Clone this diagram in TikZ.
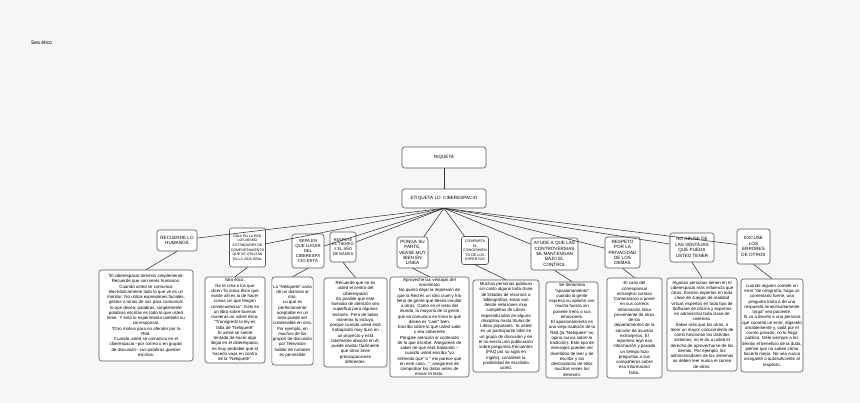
\documentclass[tikz,border=0pt]{standalone}
\usepackage{fontspec}
\setmainfont{Liberation Sans}
\definecolor{paper}{HTML}{F6F6F6}
\definecolor{boxline}{HTML}{555555}

\begin{document}
\begin{tikzpicture}[x=1pt, y=-1pt,
  cat/.style={draw=boxline, fill=white, line width=0.6pt, rounded corners=2.5pt,
    align=center, inner sep=1pt, font=\fontsize{4.6}{5.4}\selectfont},
  note/.style={draw=boxline, fill=white, line width=0.6pt, rounded corners=2.5pt,
    align=center, inner sep=1pt, font=\fontsize{4.4}{5.25}\selectfont},
  link/.style={draw=black!80, line width=0.55pt}]
  \useasboundingbox[fill=paper] (0,0) rectangle (860,403);

  % Title and root
  \node[font=\fontsize{5}{6}\selectfont] (seaetico) at (41.5,43) {Sea ético};
  \node[cat, minimum width=84pt, minimum height=21pt] (niqueta) at (444,157.5) {NIQUETA};
  \node[cat, minimum width=84pt, minimum height=19pt] (etiqueta) at (444,198.5) {ETIQUETA LO\ \ CIBERESPACIO};

  % Rules
  \node[cat, minimum width=40pt, minimum height=21pt] (recuerde) at (177,240.5) {RECUERDE LO\\HUMANOS};
  \node[cat, minimum width=36pt, minimum height=39pt, font=\fontsize{3.5}{4.6}\selectfont] (diga) at (247.5,247.5)
    {DIGA EN LA RED\\LOS MISMO\\ESTÁNDARES DE\\COMPORTAMIENTO\\QUE SE UTILIZAN\\EN LA VIDA REAL};
  \node[cat, minimum width=32pt, minimum height=34pt, font=\fontsize{4.3}{5.2}\selectfont] (sepa) at (308,251)
    {SEPA EN\\QUE LUGAR\\DEL\\CIBERESPA\\CIO ESTÁ};
  \node[cat, minimum width=26pt, minimum height=30pt, font=\fontsize{4.0}{4.9}\selectfont] (respete) at (343,247)
    {RESPETE\\EL TIEMPO\\Y EL AÑO\\DE BANDA};
  \node[cat, minimum width=31pt, minimum height=31pt] (ponga) at (412.5,252.5)
    {PONGA SU\\PARTE,\\VEASE MUY\\BIEN EN\\LINEA};
  \node[cat, minimum width=27pt, minimum height=28pt, font=\fontsize{3.6}{4.6}\selectfont] (comparta) at (475,250.5)
    {COMPARTA\\EL\\CONOCIMIEN\\TO DE LOS\\EXPERTOS};
  \node[cat, minimum width=47pt, minimum height=32pt] (ayude) at (554.5,254)
    {AYUDE A QUE LAS\\CONTROVERSIAS\\SE MANTENGAN\\BAJO EL\\CONTROL};
  \node[cat, minimum width=35pt, minimum height=31pt] (respeto) at (622.5,252.5)
    {RESPETO\\POR LA\\PRIVACIDAD\\DE LOS\\DEMAS};
  \node[cat, minimum width=44pt, minimum height=29pt] (abuse) at (692,247.5)
    {NO ABUSE DE\\LAS VENTAJAS\\QUE PUEDA\\USTED TENER};
  \node[cat, minimum width=33pt, minimum height=35pt] (excuse) at (753.5,246.5)
    {EXCUSE\\LOS\\ERRORES\\DE OTROS};

  % Explanations
  \node[note, minimum width=94pt, minimum height=91pt] (nrecuerde) at (146,315.5)
    {"El ciberespacio diremos simplemente:\\Recuerde que son seres humanos.\\Cuando usted se comunica\\electrónicamente todo lo que ve es un\\monitor. No utiliza expresiones faciales,\\gestos o tonos de voz para comunicar\\lo que desea; palabras, simplemente\\palabras escritas es todo lo que usted\\tiene. Y esto lo experimenta también su\\corresponsal.\\*Otro motivo para no ofender por la\\Red.\\Cuando usted se comunica en el\\ciberespacio --por correo o en grupos\\de discusión-- sus palabras quedan\\escritas.};
  \node[note, minimum width=60pt, minimum height=86pt] (ndiga) at (235,320)
    {Sea ético.\\No le crea a los que\\dicen "la única ética que\\existe allí es la de hacer\\cosas sin que tengan\\consecuencias". Este es\\un libro sobre buenas\\maneras no sobre ética.\\"Transgredir la ley es\\falta de "Netiquete"\\Si usted se siente\\tentado de hacer algo\\ilegal en el ciberespacio,\\es muy probable que al\\hacerlo vaya en contra\\de la "Netiquete".};
  \node[note, minimum width=41pt, minimum height=88pt] (nsepa) at (292.5,321)
    {La "Netiquete" varía\\de un dominio al\\otro.\\Lo que es\\perfectamente\\aceptable en un\\área puede ser\\condenable en otra.\\Por ejemplo, en\\muchos de los\\grupos de discusión\\por Televisión\\hablar de rumores\\es permisible};
  \node[note, minimum width=63pt, minimum height=89pt] (nrespete) at (355.5,322.5)
    {Recuerde que no es\\usted el centro del\\ciberespacio\\Es posible que este\\llamado de atención sea\\superfluo para algunos\\lectores. Pero de todas\\maneras lo incluyo,\\porque cuando usted está\\trabajando muy duro en\\un proyecto y está\\totalmente absorto en él,\\puede olvidar fácilmente\\que otros tiene\\preocupaciones\\diferentes.};
  \node[note, minimum width=79pt, minimum height=100pt] (nponga) at (429.5,327)
    {Aproveche las ventajas del\\anonimato\\No quiero dejar la impresión de\\que la Red es un sitio cruel y frío\\lleno de gente que desea insultar\\a otros. Como en el resto del\\mundo, la mayoría de la gente\\que se comunica en línea lo que\\desea es "caer" bien.\\Escriba sobre lo que usted sabe\\y sea coherente\\Póngale atención al contenido\\de lo que escribe. Asegúrese de\\saber de que está hablando --\\cuando usted escriba "yo\\entiendo que" o " me parece que\\en este caso...", asegúrese de\\comprobar los datos antes de\\enviar el texto.};
  \node[note, minimum width=66pt, minimum height=92pt] (ncomparta) at (506,326)
    {Muchas personas publican\\sin costo alguno toda clase\\de listados de recursos o\\bibliografías, estos van\\desde relaciones muy\\completas de Libros\\especializados en alguna\\disciplina hasta títulos de\\Libros populares. Si usted\\es un participante líder en\\un grupo de discusión y en\\el no exista una publicación\\sobre preguntas frecuentes\\(FAQ por su sigla en\\inglés), considere la\\posibilidad de escribirla\\usted.};
  \node[note, minimum width=52pt, minimum height=96pt] (nayude) at (572,330)
    {Se denomina\\"apasionamiento"\\cuando la gente\\expresa su opinión con\\mucha fuerza sin\\ponerle freno a sus\\emociones.\\El apasionamiento es\\una vieja tradición de la\\Red (la "Netiquete" no\\opina nunca sobre la\\tradición). Este tipo de\\mensajes pueden ser\\divertidos de leer y de\\escribir y los\\destinatarios de ellos\\muchas veces los\\merecen.};
  \node[note, minimum width=55pt, minimum height=100pt] (nrespeto) at (634.5,328)
    {El caso del\\corresponsal\\extranjero curioso\\Comenzaron a poner\\en sus correos\\información falsa\\proveniente de otros\\de los\\departamentos de la\\sección de asuntos\\extranjeros. El\\reportero leyó esa\\información y pasado\\un tiempo hizo\\preguntas a sus\\compañeros sobre\\esa información\\falsa.};
  \node[note, minimum width=70pt, minimum height=93pt] (nabuse) at (702,324.5)
    {Algunas personas tienen en el\\ciberespacio más influencia que\\otras. Existen expertos en toda\\clase de Juegos de realidad\\virtual, expertos en todo tipo de\\Software de oficina y expertos\\en administrar toda clase de\\sistemas.\\Saber más que los otros, o\\tener un mayor conocimiento de\\cómo funcionan los distintos\\sistemas, no le da a usted el\\derecho de aprovecharse de los\\demás. Por ejemplo, los\\administradores de los sistemas\\no deben leer nunca el correo\\de otros.};
  \node[note, minimum width=62pt, minimum height=93pt] (nexcuse) at (772,325.5)
    {cuando alguien comete un\\error "de ortografía, haga un\\comentario fuerte, una\\pregunta tonta o de una\\respuesta innecesariamente\\larga" sea paciente.\\Si va a decirle a una persona\\que cometió un error, dígaselo\\amablemente y, ojalá por el\\correo privado, no lo haga\\público. Déle siempre a los\\demás el beneficio de la duda,\\piense que no saben cómo\\hacerlo mejor. No sea nunca\\arrogante o autosuficiente al\\respecto.};

  % Root to rules
  \draw[link] (niqueta) -- (etiqueta);
  \draw[link] (etiqueta.south) -- (recuerde);
  \draw[link] (etiqueta.south) -- (diga);
  \draw[link] (etiqueta.south) -- (sepa);
  \draw[link] (etiqueta.south) -- (respete);
  \draw[link] (etiqueta.south) -- (ponga);
  \draw[link] (etiqueta.south) -- (comparta);
  \draw[link] (etiqueta.south) -- (ayude);
  \draw[link] (etiqueta.south) -- (respeto);
  \draw[link] (etiqueta.south) -- (abuse);
  \draw[link] (etiqueta.south) -- (excuse);

  % Rules to explanations
  \draw[link] (recuerde.south) -- (nrecuerde.north);
  \draw[link] (diga.south) -- (ndiga.north);
  \draw[link] (sepa.south) -- (nsepa.north);
  \draw[link] (respete.south) -- (nrespete.north);
  \draw[link] (ponga.south) -- (nponga.north);
  \draw[link] (comparta.south) -- (ncomparta.north);
  \draw[link] (ayude.south) -- (nayude.north);
  \draw[link] (respeto.south) -- (nrespeto.north);
  \draw[link] (abuse.south) -- (nabuse.north);
  \draw[link] (excuse.south) -- (nexcuse.north);
\end{tikzpicture}
\end{document}
